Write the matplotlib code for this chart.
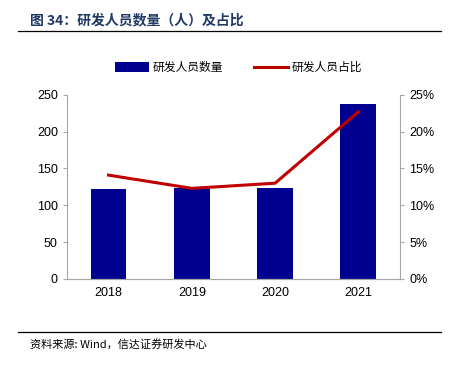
import matplotlib
matplotlib.use("Agg")
import matplotlib.pyplot as plt
from matplotlib.ticker import FuncFormatter

years = ["2018", "2019", "2020", "2021"]
staff = [122, 124, 124, 238]
ratio = [14.1, 12.3, 13.0, 22.7]

BAR = "#000090"
RED = "#C00000"
GRAY = "#A6A6A6"

plt.rcParams["font.family"] = ["Liberation Sans", "Noto Sans CJK SC", "DejaVu Sans"]
cjk = ["Noto Sans CJK SC", "DejaVu Sans"]

fig = plt.figure(figsize=(4.52, 3.65), dpi=100)
ax = fig.add_axes([0.148, 0.236, 0.737, 0.504])
ax2 = ax.twinx()

x = range(len(years))
bars = ax.bar(x, staff, width=0.43, color=BAR, zorder=2, label="研发人员数量")
line, = ax2.plot(x, ratio, color=RED, lw=2.2, label="研发人员占比")

ax.set_xlim(-0.5, 3.5)
ax.set_ylim(0, 250)
ax.set_yticks(range(0, 251, 50))
ax2.set_ylim(0, 25)
ax2.set_yticks(range(0, 26, 5))
ax2.yaxis.set_major_formatter(FuncFormatter(lambda v, p: f"{v:.0f}%"))
ax.set_xticks(list(x))
ax.set_xticklabels(years)

for a in (ax, ax2):
    a.spines["top"].set_visible(False)
    for s in ("left", "right", "bottom"):
        a.spines[s].set_color(GRAY)
        a.spines[s].set_linewidth(0.8)
    a.tick_params(colors=GRAY, labelcolor="black", labelsize=9, length=3, width=0.8)
ax.tick_params(axis="x", length=0, pad=6)
ax2.spines["left"].set_visible(False)
ax.spines["right"].set_visible(False)

fig.legend([bars, line], ["研发人员数量", "研发人员占比"], loc="center",
           bbox_to_anchor=(0.527, 0.815), ncol=2, frameon=False,
           prop={"family": cjk, "size": 8.5}, handlelength=2.9,
           handleheight=0.9, columnspacing=2.6, handletextpad=0.3)

fig.text(0.066, 0.945, "图 34：研发人员数量（人）及占比", family=cjk,
         fontsize=10, fontweight="bold", color="#1F3864", va="center")
fig.add_artist(plt.Line2D([0.04, 0.975], [0.915, 0.915], color="black", lw=0.9))
fig.add_artist(plt.Line2D([0.04, 0.975], [0.09, 0.09], color="black", lw=0.9))
fig.text(0.066, 0.058, "资料来源: Wind，信达证券研发中心", family=cjk,
         fontsize=8, style="italic", va="center")

fig.savefig("out.png", dpi=100)
